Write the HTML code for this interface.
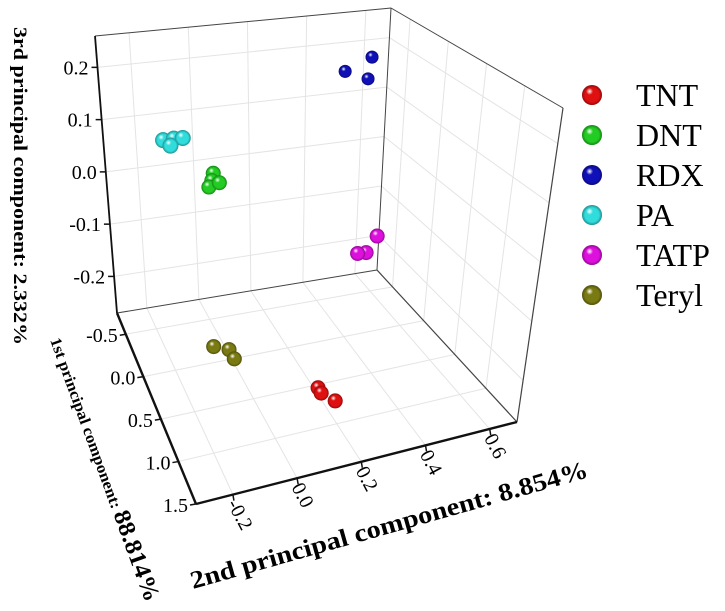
<!DOCTYPE html>
<html><head><meta charset="utf-8"><style>
html,body{margin:0;padding:0;background:#fff;}
svg{display:block;font-family:"Liberation Serif",serif;}
</style></head><body>
<svg id="chart" width="725" height="611" viewBox="0 0 725 611" xmlns="http://www.w3.org/2000/svg">
<defs id="defs"></defs>
<g id="grid"></g>
<g id="box"></g>
<g id="ticks"></g>
<g id="points"></g>
<g id="legend"></g>
<text transform="translate(14,27) rotate(90)" font-size="19" font-weight="bold" textLength="318" lengthAdjust="spacingAndGlyphs">3rd principal component: 2.332%</text>
<text transform="translate(50,340) rotate(70)" font-weight="bold" textLength="280" lengthAdjust="spacingAndGlyphs"><tspan font-size="16">1st principal component: </tspan><tspan font-size="24">88.814%</tspan></text>
<text transform="translate(193,589) rotate(-15.8)" font-size="25" font-weight="bold" textLength="412" lengthAdjust="spacingAndGlyphs">2nd principal component: 8.854%</text>
</svg>
<script>
const groups = ["TNT","DNT","RDX","PA","TATP","Teryl"];
const groupColors = ["#e01010","#22cc22","#1010b8","#30dcdc","#dd10dd","#7a7a12"];
const pc1 = [[1.00,1.07,1.20],[-0.075,-0.075,-0.075,-0.075],[-0.525,-0.525,-0.525],[-0.30,-0.30,-0.30,-0.30],[-0.41,-0.41,-0.41],[0.26,0.33,0.45]];
const pc2 = [[0.131,0.13,0.154],[-0.048,-0.053,-0.063,-0.028],[0.482,0.571,0.561],[-0.176,-0.14,-0.11,-0.152],[0.594,0.557,0.526],[-0.102,-0.06,-0.06]];
const pc3 = [[-0.2,-0.2,-0.2],[0.065,0.052,0.041,0.046],[0.168,0.190,0.148],[0.109,0.109,0.108,0.097],[-0.150,-0.179,-0.178],[-0.2,-0.2,-0.2]];
const pc1Ticks = [-0.5,0.0,0.5,1.0,1.5];
const pc1TickLabels = ["-0.5","0.0","0.5","1.0","1.5"];
const pc2Ticks = [-0.2,0.0,0.2,0.4,0.6];
const pc2TickLabels = ["-0.2","0.0","0.2","0.4","0.6"];
const pc3Ticks = [-0.2,-0.1,0.0,0.1,0.2];
const pc3TickLabels = ["-0.2","-0.1","0.0","0.1","0.2"];

const R1=[-0.75,1.5], R2=[-0.315,0.685], R3=[-0.27,0.26];
const C = {
 A:[117,313],B:[377,270],Cc:[196,504],D:[517,422],
 E:[95,36],F:[391,8],G:[206,175],H:[563,108]
};
function proj(u,v,w){
  const k=[[C.A,(1-u)*(1-v)*(1-w)],[C.B,u*(1-v)*(1-w)],[C.Cc,(1-u)*v*(1-w)],[C.D,u*v*(1-w)],
           [C.E,(1-u)*(1-v)*w],[C.F,u*(1-v)*w],[C.G,(1-u)*v*w],[C.H,u*v*w]];
  let x=0,y=0;k.forEach(([p,f])=>{x+=p[0]*f;y+=p[1]*f;});return [x,y];
}
const su=v=>(v-R2[0])/(R2[1]-R2[0]);
const sv=v=>(v-R1[0])/(R1[1]-R1[0]);
const sw=v=>(v-R3[0])/(R3[1]-R3[0]);
const NS="http://www.w3.org/2000/svg";
function mk(tag,attrs,parent){const e=document.createElementNS(NS,tag);for(const k in attrs)e.setAttribute(k,attrs[k]);parent.appendChild(e);return e;}
function line(p,q,stroke,sw_,parent){return mk('line',{x1:p[0],y1:p[1],x2:q[0],y2:q[1],stroke:stroke,'stroke-width':sw_},parent);}

const grid=document.getElementById('grid');
const gc="#e4e4e4";
pc2Ticks.forEach(t=>{const u=su(t);
  let l=line(proj(u,0,0),proj(u,0,1),gc,1,grid);
  
  
  l=line(proj(u,0,0),proj(u,1,0),gc,1,grid);
  
  
});
pc3Ticks.forEach(t=>{const w=sw(t);
  let l=line(proj(0,0,w),proj(1,0,w),gc,1,grid);
  
  
  l=line(proj(1,0,w),proj(1,1,w),gc,1,grid);
  
  
});
pc1Ticks.forEach(t=>{const v=sv(t);
  let l=line(proj(0,v,0),proj(1,v,0),gc,1,grid);
  
  
  l=line(proj(1,v,0),proj(1,v,1),gc,1,grid);
  
  
});

const box=document.getElementById('box');
[[[0,0,0],[1,0,0],1],[[0,0,1],[1,0,1],1],[[1,0,0],[1,0,1],1],[[1,0,1],[1,1,1],1],[[1,1,0],[1,1,1],1.2],[[1,0,0],[1,1,0],1.2],
 [[0,0,0],[0,0,1],1.8],[[0,0,0],[0,1,0],2.4],[[0,1,0],[1,1,0],2.4]].forEach(([a,b,wd])=>{
  const l=line(proj(...a),proj(...b),wd>1.5?"#111":"#444",wd,box);
  
  
});

const tk=document.getElementById('ticks');
pc3Ticks.forEach((t,i)=>{const p=proj(0,0,sw(t));
  const l=line(p,[p[0]-6,p[1]],"#111",1.5,tk);
  
  
  const tx=mk('text',{x:p[0]-9,y:p[1]+7,'font-size':20,'text-anchor':'end'},tk);
  tx.textContent=pc3TickLabels[i];
  
  
});
pc1Ticks.forEach((t,i)=>{const p=proj(0,sv(t),0);
  const l=line(p,[p[0]-6,p[1]+1],"#111",1.5,tk);
  
  
  const tx=mk('text',{x:p[0]-8,y:p[1]+8,'font-size':20,'text-anchor':'end'},tk);
  tx.textContent=pc1TickLabels[i];
  
  
});
pc2Ticks.forEach((t,i)=>{const p=proj(su(t),1,0);
  const l=line(p,[p[0]+1,p[1]+6],"#111",1.5,tk);
  
  
  const tx=mk('text',{transform:`translate(${p[0]-6},${p[1]+9}) rotate(62)`,'font-size':20},tk);
  tx.textContent=pc2TickLabels[i];
  
  
});

const defs=document.getElementById('defs');
groupColors.forEach((c,i)=>{
  const g=mk('radialGradient',{id:'g'+i,cx:'0.38',cy:'0.32',r:'0.7'},defs);
  mk('stop',{offset:'0',"stop-color":'#ffffff'},g);
  mk('stop',{offset:'0.25',"stop-color":c},g);
  mk('stop',{offset:'1',"stop-color":c,"stop-opacity":'1'},g);
  const g2=mk('radialGradient',{id:'s'+i,cx:'0.5',cy:'0.5',r:'0.5'},defs);
  mk('stop',{offset:'0.7',"stop-color":'#000',"stop-opacity":'0'},g2);
  mk('stop',{offset:'1',"stop-color":'#000',"stop-opacity":'0.35'},g2);
});
const pts=document.getElementById('points');
groups.forEach((g,gi)=>{
  pc1[gi].forEach((v,j)=>{
    const p=proj(su(pc2[gi][j]),sv(v),sw(pc3[gi][j]));
    const r=gi===2?6.5:(gi===3?8:7.5);
    const c=mk('circle',{cx:p[0],cy:p[1],r:r,fill:`url(#g${gi})`},pts);
    
    
    const s=mk('circle',{cx:p[0],cy:p[1],r:r,fill:`url(#s${gi})`},pts);
    
    
  });
});
const lg=document.getElementById('legend');
groups.forEach((g,i)=>{
  const y=95+i*40;
  const c=mk('circle',{cx:592,cy:y,r:10,fill:`url(#g${i})`},lg);
  
  
  const s=mk('circle',{cx:592,cy:y,r:10,fill:`url(#s${i})`},lg);
  
  
  const t=mk('text',{x:636,y:y+11,'font-size':32},lg);
  t.textContent=g;
  
  
});
</script>
</body></html>
